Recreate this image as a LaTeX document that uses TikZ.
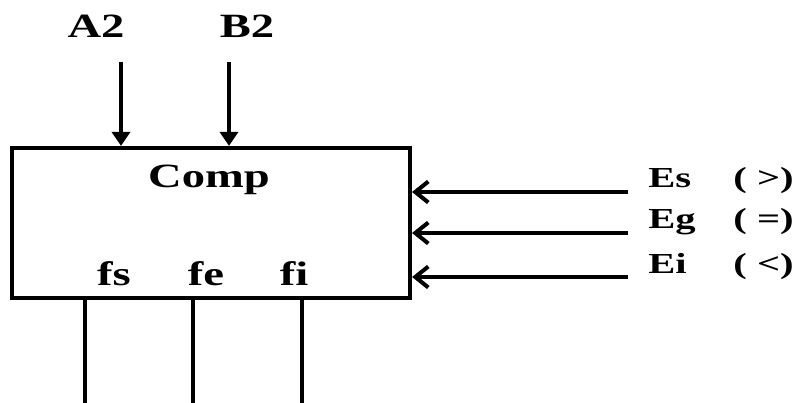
\documentclass[tikz,border=0pt]{standalone}
\usepackage{fontspec}
\setmainfont{Liberation Serif}
\usetikzlibrary{arrows.meta}

\begin{document}
\begin{tikzpicture}[
  x=1pt,y=-1pt,
  blk/.style={draw,line width=4.2pt,minimum width=398pt,minimum height=150pt,inner sep=0pt},
  lbl/.style={font=\bfseries\fontsize{34}{38}\selectfont,xscale=1.37,inner sep=0pt,anchor=base},
  signame/.style={font=\bfseries\fontsize{29}{32}\selectfont,xscale=1.4,inner sep=0pt,anchor=base west},
  sigrel/.style={font=\bfseries\fontsize{29}{32}\selectfont,xscale=1.4,inner sep=0pt,anchor=base east},
  wire/.style={line width=4pt},
  inarrow/.style={wire,-{Triangle[length=14pt,width=18pt]}},
  sidearrow/.style={wire,-{Straight Barb[length=13pt,width=21pt]}}
]
\useasboundingbox (0,0) rectangle (797,403);
\node[blk] (comp) at (211,223) {};
\node[lbl] (title) at (209,188) {Comp};
\node[lbl] (a2) at (96,38) {A2};
\node[lbl] (b2) at (247,38) {B2};
\node[lbl] (fs) at (114,285) {fs};
\node[lbl] (fe) at (206,285) {fe};
\node[lbl] (fi) at (294,285) {fi};
\node[signame] (es) at (648,188) {Es};
\node[signame] (eg) at (648,229) {Eg};
\node[signame] (ei) at (648,273) {Ei};
\node[sigrel] (esrel) at (794,188) {( >)};
\node[sigrel] (egrel) at (794,229) {( =)};
\node[sigrel] (eirel) at (794,273) {( <)};
\coordinate (a2in) at (121,62);
\coordinate (b2in) at (229,62);
\coordinate (esin) at (628,192);
\coordinate (egin) at (628,233);
\coordinate (eiin) at (628,277);
\coordinate (fsout) at (85,403);
\coordinate (feout) at (193,403);
\coordinate (fiout) at (302,403);
\draw[inarrow] (a2in) -- (a2in |- comp.north);
\draw[inarrow] (b2in) -- (b2in |- comp.north);
\draw[sidearrow] (esin) -- (esin -| comp.east);
\draw[sidearrow] (egin) -- (egin -| comp.east);
\draw[sidearrow] (eiin) -- (eiin -| comp.east);
\draw[wire] (comp.south -| fsout) -- (fsout);
\draw[wire] (comp.south -| feout) -- (feout);
\draw[wire] (comp.south -| fiout) -- (fiout);
\end{tikzpicture}
\end{document}
